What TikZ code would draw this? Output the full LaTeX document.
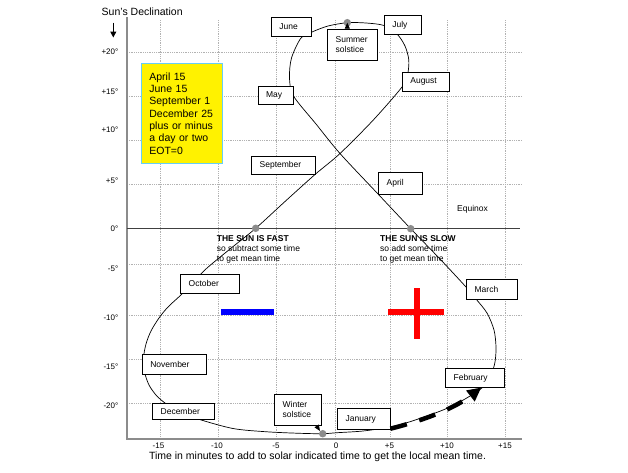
\documentclass[tikz,border=0pt]{standalone}
\usepackage{fontspec}
\setmainfont{Liberation Sans}
\usetikzlibrary{arrows.meta}
\begin{document}
\begin{tikzpicture}[x=1pt,y=-1pt,
  gridline/.style={gray!60, densely dotted, line width=0.8pt},
  axisline/.style={gray!90, line width=2pt},
  mb/.style n args={2}{draw=black, fill=white, line width=0.7pt, anchor=north west,
     inner xsep=8pt, inner ysep=0pt, text width=#1, minimum height=#2, align=left,
     font=\fontsize{8.5}{10}\selectfont},
  sdot/.style={circle, fill=gray!90, inner sep=0pt, minimum size=7.5pt},
  ylab/.style={anchor=east, inner sep=0pt, font=\fontsize{8}{9}\selectfont},
  xlab/.style={anchor=center, inner sep=0pt, font=\fontsize{8}{9}\selectfont},
  note/.style={anchor=west, inner sep=0pt, align=left, font=\fontsize{8.5}{10}\selectfont},
  curve/.style={black, line width=0.7pt},
  tip/.style={-{Triangle[length=6pt,width=5pt]}, line width=0.7pt}
]
\useasboundingbox (0,0) rectangle (628,472);
% grid
\foreach \gx in {160,218,276,335,390,447,505}
  \draw[gridline] (\gx,20) -- (\gx,439);
\foreach \gy in {52.7,96.3,140,184,264.3,315,359.3,403.3}
  \draw[gridline] (127,\gy) -- (522,\gy);
% axes
\draw[axisline] (126.7,17) -- (126.7,440.3);
\draw[axisline] (126.7,439.3) -- (522,439.3);
\draw[black!75, line width=1.2pt] (126.7,228.5) -- (520,228.5);
% title and arrow
\node[anchor=west, inner sep=0pt, font=\fontsize{10.5}{12}\selectfont] (title) at (101.5,11.7) {Sun's Declination};
\coordinate (ta) at (113.3,22.5);
\coordinate (tb) at (113.3,37.5);
\draw[-{Triangle[length=6pt,width=6pt]}, line width=1pt] (ta) -- (tb);
% y labels
\node[ylab] (l20) at (118.5,51.7) {+20°};
\node[ylab] (l15) at (118.5,91.7) {+15°};
\node[ylab] (l10) at (118.5,130) {+10°};
\node[ylab] (l5) at (118.5,180.3) {+5°};
\node[ylab] (l0) at (118.5,228.7) {0°};
\node[ylab] (lm5) at (118.5,269) {-5°};
\node[ylab] (lm10) at (118.5,317.7) {-10°};
\node[ylab] (lm15) at (118.5,366.7) {-15°};
\node[ylab] (lm20) at (118.5,406) {-20°};
% x labels
\node[xlab] (xm15) at (158.5,446) {-15};
\node[xlab] (xm10) at (217,446) {-10};
\node[xlab] (xm5) at (276,446) {-5};
\node[xlab] (x0) at (336,446) {0};
\node[xlab] (x5) at (389.5,446) {+5};
\node[xlab] (x10) at (447,446) {+10};
\node[xlab] (x15) at (505,446) {+15};
\node[anchor=center, inner sep=0pt, font=\fontsize{10.5}{12}\selectfont] (cap) at (317.5,456.7)
  {Time in minutes to add to solar indicated time to get the local mean time.};
% yellow box
\node[draw=cyan!60, fill=yellow, line width=0.8pt, anchor=north west, inner xsep=8.3pt, inner ysep=0pt,
  text width=65pt, minimum height=100.6pt, align=left, font=\fontsize{10.5}{12.3}\selectfont] (yb) at (140.7,62.7)
  {April 15\\June 15\\September 1\\December 25\\plus or minus\\a day or two\\EOT=0};
% analemma
\draw[curve] plot[smooth cycle, tension=0.5] coordinates {
 (322.7,433.7) (337,432.7) (363,431) (390,427) (410,421.7) (443,410) (465,399) (483,387)
 (491,375) (495,362) (496,347) (494,330) (487,313) (476,299) (466,287)
 (440,259) (410.7,228.7) (378.3,194.3) (340,153.5) (316,124) (293.5,96)
 (289.5,78) (291.5,58) (301,38) (312,32) (328,26) (347.3,22.7) (366,23) (384,25.5)
 (397,34) (405,46) (408.8,60) (407.5,75) (402,87) (373.3,120) (340,153.5)
 (315,174.5) (285,201.5) (255.7,228.3) (230,249) (206.7,268.3) (193,282) (182.7,293.3)
 (168,307) (159,318) (151,331) (146,344) (143.5,358) (144.5,372) (149,385) (156,395)
 (165,403) (180,412) (198,419) (233,428.5) (267,431.8) (300,433.3)};
% dashed arrow to February
\node[mb={42.4pt}{18.4pt}] (feb) at (445.3,368.3) {February};
\node[mb={36.4pt}{20.7pt}] (jan) at (337.3,408.3) {January};
\draw[line width=4.5pt, dash pattern=on 17pt off 13pt, -{Triangle[length=14pt,width=13pt]}]
  ([yshift=1pt]jan.south east) .. controls (425,420) and (455,408) .. ([xshift=-23pt]feb.south east);
% month boxes
\node[mb={23.7pt}{18.4pt}] (jun) at (271,17.3) {June};
\node[mb={34pt}{30.4pt}] (ss) at (327.3,29.3) {Summer\\solstice};
\node[mb={21.3pt}{19pt}] (jul) at (384,15.3) {July};
\node[mb={31.3pt}{18.7pt}] (aug) at (402,72) {August};
\node[mb={19.6pt}{17.7pt}] (may) at (257.7,86.3) {May};
\node[mb={47.4pt}{18pt}] (sep) at (251.3,156.3) {September};
\node[mb={28pt}{22pt}] (apr) at (378.3,172.3) {April};
\node[mb={42.4pt}{19.6pt}] (oct) at (180.3,273.7) {October};
\node[mb={48.3pt}{20.6pt}] (nov) at (142,353.7) {November};
\node[mb={46pt}{16.3pt}] (dec) at (152.3,402.7) {December};
\node[mb={30.4pt}{30.4pt}] (ws) at (274.3,394.3) {Winter\\solstice};
\node[mb={34.7pt}{20.3pt}] (mar) at (466.3,279) {March};
% notes
\node[note] (eq) at (457,209.3) {Equinox};
\node[note] (fast) at (216.7,249) {\textbf{THE SUN IS FAST}\\so subtract some time\\to get mean time};
\node[note] (slow) at (380,249) {\textbf{THE SUN IS SLOW}\\so add some time\\to get mean time};
% dots
\node[sdot] (sumdot) at (347.3,22.7) {};
\node[sdot] (fastdot) at (255.7,228.3) {};
\node[sdot] (slowdot) at (410.7,228.7) {};
\node[sdot] (windot) at (322.7,433.7) {};
\draw[tip] (ss.north -| sumdot) -- (sumdot.center);
\draw[tip] ([xshift=-5pt]ws.south east) -- (windot.north west);
% signs
\fill[blue] (221,309) rectangle (274,315);
\fill[red] (387.7,309) rectangle (443.7,315.3);
\fill[red] (413.7,288.3) rectangle (420,339.3);
\end{tikzpicture}
\end{document}
